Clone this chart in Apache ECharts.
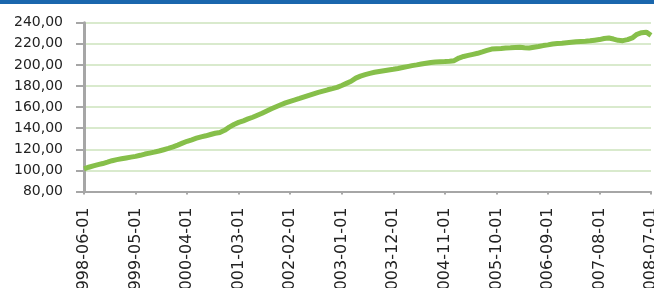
<!DOCTYPE html>
<html>
<head>
<meta charset="utf-8">
<script src="https://cdn.jsdelivr.net/npm/echarts@6/dist/echarts.min.js"></script>
<style>
html,body{margin:0;padding:0;background:#fff;}
#chart{width:654px;height:288px;}
</style>
</head>
<body>
<div id="chart"></div>
<script>
var startYear = 1998, startMonth = 6, monthCount = 122;
var categories = [];
for (var k = 0; k < monthCount; k++) {
  var m = startMonth - 1 + k;
  var yy = startYear + Math.floor(m / 12);
  var mm = (m % 12) + 1;
  categories.push(yy + '-' + (mm < 10 ? '0' : '') + mm + '-01');
}

var values = [
  101.5, 103.0, 104.3, 105.5, 106.5, 107.8, 109.2, 110.2, 111.0, 111.8,
  112.6, 113.3, 114.3, 115.5, 116.4, 117.3, 118.4, 119.6, 120.8, 122.3,
  124.0, 125.8, 127.6, 129.0, 130.5, 131.8, 132.8, 134.0, 135.2, 136.0,
  138.0, 141.0, 143.5, 145.5, 147.0, 148.8, 150.4, 152.3, 154.2, 156.3,
  158.4, 160.3, 162.2, 164.0, 165.5, 166.8, 168.2, 169.7, 171.2, 172.6,
  174.0, 175.2, 176.4, 177.5, 178.7, 180.5, 182.5, 184.5, 187.5, 189.4,
  190.8, 192.0, 193.0, 193.8, 194.5, 195.2, 195.8, 196.6, 197.5, 198.4,
  199.3, 200.0, 200.8, 201.6, 202.3, 202.8, 203.0, 203.2, 203.5, 204.0,
  206.5, 208.0, 209.0, 210.0, 211.0, 212.3, 213.7, 215.0, 215.3, 215.6,
  216.0, 216.2, 216.5, 216.8, 216.3, 216.0, 216.8, 217.5, 218.3, 219.0,
  219.8, 220.2, 220.5, 221.0, 221.5, 222.0, 222.2, 222.4, 222.8, 223.4,
  224.0, 225.0, 225.5, 224.5, 223.3, 223.0, 224.0, 225.6, 229.0, 230.5,
  231.0, 228.0
];

var yMin = 80, yMax = 240, yStep = 20;
var FONT = '"DejaVu Sans", Verdana, sans-serif';

var chart = echarts.init(document.getElementById('chart'), null, {renderer: 'canvas'});
chart.setOption({
  animation: false,
  backgroundColor: '#ffffff',
  textStyle: {fontFamily: FONT},
  graphic: [{
    type: 'rect',
    left: 0, top: 0,
    shape: {width: 654, height: 4},
    style: {fill: '#1a67ad'},
    z: 100
  }],
  grid: {
    left: 84, right: 3, top: 22.7, bottom: 96.5,
    containLabel: false,
    outerBoundsMode: 'none'
  },
  xAxis: {
    type: 'category',
    data: categories,
    boundaryGap: false,
    axisLine: {lineStyle: {color: '#a6a6a6', width: 2}},
    axisTick: {show: true, interval: 10, length: 3, lineStyle: {color: '#a6a6a6', width: 2}},
    axisLabel: {
      interval: 10, rotate: 90, margin: 16,
      fontFamily: FONT, fontSize: 16, color: '#222',
      hideOverlap: false
    },
    splitLine: {show: false}
  },
  yAxis: {
    type: 'value',
    min: yMin, max: yMax, interval: yStep,
    axisLine: {show: true, lineStyle: {color: '#a6a6a6', width: 3}},
    axisTick: {show: true, length: 8, lineStyle: {color: '#a6a6a6', width: 2}},
    axisLabel: {
      margin: 21,
      fontFamily: FONT, fontSize: 14, color: '#222',
      formatter: function (v) { return v.toFixed(2).replace('.', ','); }
    },
    splitLine: {show: true, lineStyle: {color: '#d9eacd', width: 2}}
  },
  series: [{
    type: 'line',
    data: values,
    showSymbol: false,
    symbol: 'none',
    lineStyle: {color: '#86bf4a', width: 5},
    z: 3
  }]
});
</script>
</body>
</html>
